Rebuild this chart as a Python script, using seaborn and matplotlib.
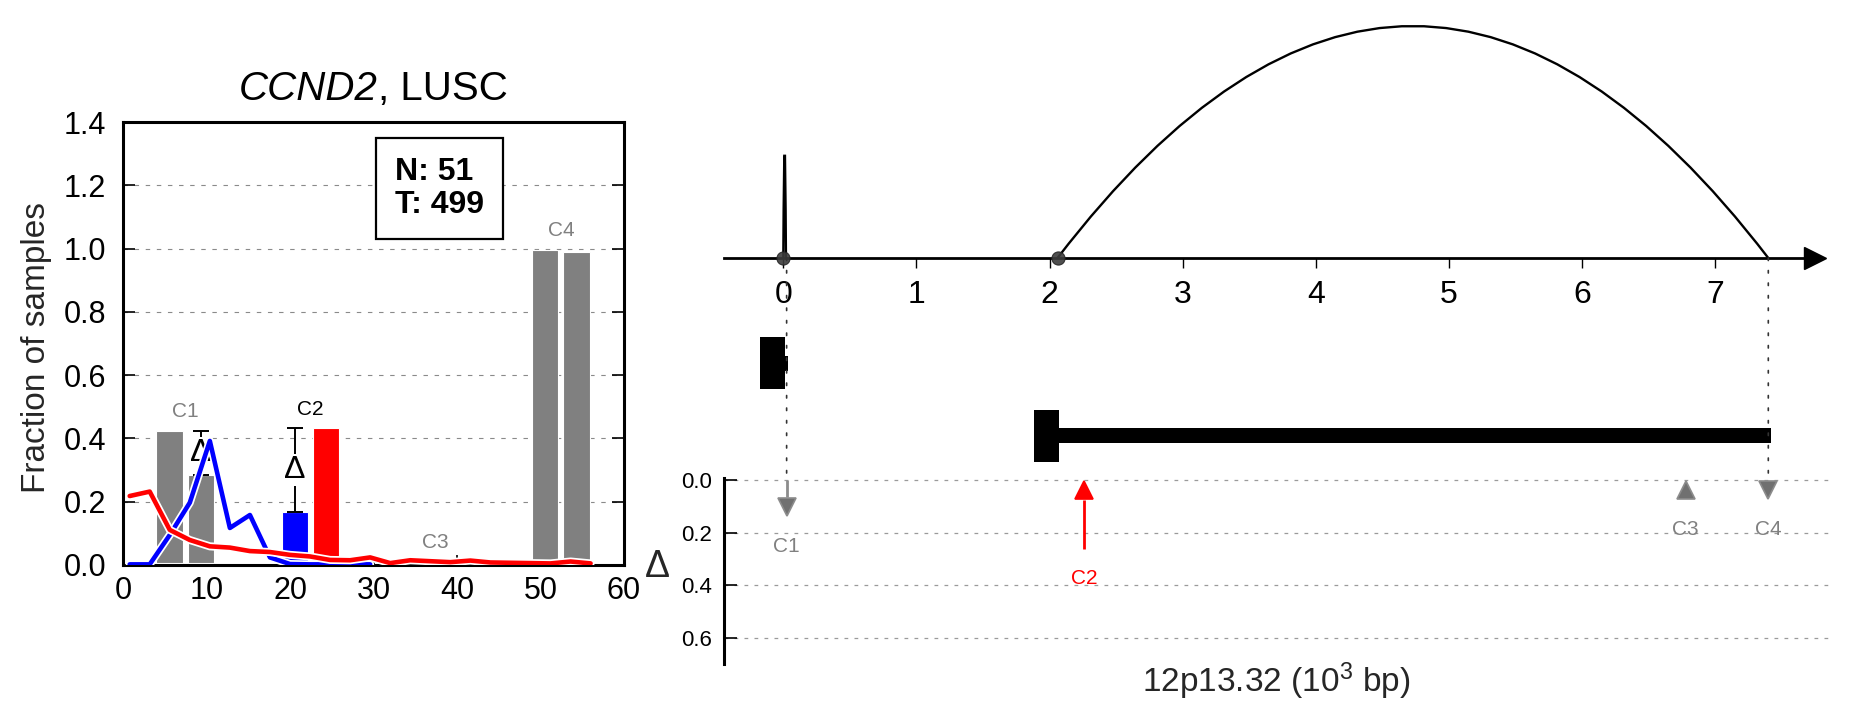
from __future__ import annotations

import matplotlib

matplotlib.use("Agg")
import matplotlib.patheffects as pe
import matplotlib.pyplot as plt
import seaborn as sns
from matplotlib.patches import ConnectionPatch, PathPatch
from matplotlib.path import Path

W, H = 1851, 718

# ---- left panel: fraction of samples ----
RED_X = [0.8, 3.2, 5.6, 8.0, 10.4, 12.8, 15.2, 17.6, 20.0, 22.4, 24.8, 27.2,
         29.6, 32.0, 34.4, 36.8, 39.2, 41.6, 44.0, 46.4, 48.8, 51.2, 53.6, 56.0]
RED_Y = [0.218, 0.232, 0.111, 0.079, 0.059, 0.055, 0.044, 0.041, 0.032, 0.027,
         0.016, 0.015, 0.024, 0.006, 0.015, 0.012, 0.009, 0.014, 0.008, 0.007,
         0.006, 0.005, 0.011, 0.005]
BLUE_X = [0.8, 3.2, 5.6, 8.0, 10.4, 12.8, 15.2, 17.6, 20.0, 22.4, 24.8, 27.2, 29.6]
BLUE_Y = [0.002, 0.002, 0.095, 0.197, 0.392, 0.117, 0.158, 0.024, 0.003,
          0.002, 0.002, 0.002, 0.002]

GROUPS = ["C1", "C2", "C3", "C4"]
GROUP_CENTER = [7.45, 22.45, 37.45, 52.45]
FIRST_HEIGHT = [0.424, 0.169, 0.008, 0.996]
SECOND_HEIGHT = [0.284, 0.432, 0.010, 0.990]
HIGHLIGHT = [False, True, False, False]
SHOW_DELTA = [True, True, False, False]
N_NORMAL = 51
N_TUMOR = 499

# ---- right panel: gene locus ----
EVENT_POS = [0.025, 2.26, 6.78, 7.40]
EVENT_GUIDE = [True, False, False, True]
ARC_START = [0.0, 2.06]
ARC_END = [0.02, 7.40]
ARC_HEIGHT = [0.47, 1.0]
GENOME_TICKS = [0, 1, 2, 3, 4, 5, 6, 7]
FEAT_TRACK = [1, 1, 2, 2]
FEAT_START = [-0.174, 0.014, 1.884, 2.07]
FEAT_END = [0.014, 0.035, 2.07, 7.42]
FEAT_TALL = [True, False, True, False]
DELTA_TICKS = [0.0, 0.2, 0.4, 0.6]

GRAY = "#808080"
BLUE = "#0000ff"
RED = "#ff0000"
XLIM = (-0.4455, 7.856)


def px_rect(x0, y0, x1, y1):
    return [x0 / W, 1 - y1 / H, (x1 - x0) / W, (y1 - y0) / H]


def plot_fractions(fig):
    ax = fig.add_axes(px_rect(123, 122, 624, 565))
    half, width, base = 1.875, 3.15, 0.007
    first_x = [c - half for c in GROUP_CENTER]
    second_x = [c + half for c in GROUP_CENTER]
    first_col = [BLUE if h else GRAY for h in HIGHLIGHT]
    second_col = [RED if h else GRAY for h in HIGHLIGHT]
    ax.bar(first_x, [v - base for v in FIRST_HEIGHT], bottom=base, width=width,
           color=first_col, edgecolor="white", linewidth=0.8, zorder=2)
    ax.bar(second_x, [v - base for v in SECOND_HEIGHT], bottom=base, width=width,
           color=second_col, edgecolor="white", linewidth=0.8, zorder=2)

    for i, name in enumerate(GROUPS):
        a, b = FIRST_HEIGHT[i], SECOND_HEIGHT[i]
        top = max(a, b)
        ax.text(GROUP_CENTER[i], top + 0.06, name, ha="center", va="center",
                fontsize=15, color="black" if HIGHLIGHT[i] else GRAY, zorder=4)
        if not SHOW_DELTA[i]:
            continue
        lo = min(a, b)
        x = first_x[i] if a < b else second_x[i]
        mid = (lo + top) / 2
        ax.errorbar([x], [mid], yerr=[(top - lo) / 2], fmt="none", ecolor="black",
                    elinewidth=1.4, capsize=6, capthick=1.4, zorder=3)
        ax.text(x, mid, "Δ", ha="center", va="center", fontsize=23, zorder=4,
                bbox=dict(facecolor="white", edgecolor="none", pad=0.5))

    halo = [pe.Stroke(linewidth=5.8, foreground="white"), pe.Normal()]
    sns.lineplot(x=BLUE_X, y=BLUE_Y, ax=ax, color=BLUE, linewidth=3.3,
                 path_effects=halo, sort=False, zorder=5)
    sns.lineplot(x=RED_X, y=RED_Y, ax=ax, color=RED, linewidth=3.3,
                 path_effects=halo, sort=False, zorder=6)

    ax.text(37.9, 1.19, f"N: {N_NORMAL}\nT: {N_TUMOR}", ha="center", va="center",
            multialignment="left", fontsize=23, fontweight="bold", linespacing=1.12,
            zorder=7, bbox=dict(boxstyle="square,pad=0.6", facecolor="white",
                                edgecolor="black", linewidth=1.6))

    ax.set_xlim(0, 60)
    ax.set_ylim(0, 1.4)
    ax.set_xticks(range(0, 61, 10))
    ax.set_yticks([i * 0.2 for i in range(8)])
    ax.set_yticklabels([f"{i * 0.2:.1f}" for i in range(8)])
    ax.tick_params(axis="y", direction="in", left=True, right=True, length=8.5,
                   width=1.2, pad=12, labelsize=22)
    ax.tick_params(axis="x", direction="in", bottom=True, top=False, length=7,
                   width=1.2, pad=8, labelsize=22)
    ax.grid(axis="y", color="#8a8a8a", linewidth=0.8, linestyle=(0, (4, 6)), zorder=0)
    ax.grid(axis="x", visible=False)
    for sp in ax.spines.values():
        sp.set_linewidth(2.2)
        sp.set_color("black")

    # title: italic gene symbol followed by upright cohort name
    gene = ax.annotate("CCND2", xy=(0.509, 1), xycoords="axes fraction",
                       xytext=(0, 10), textcoords="offset points", ha="right",
                       va="bottom", fontsize=29, fontstyle="italic")
    ax.annotate(", LUSC", xy=(1, 0), xycoords=gene, ha="left", va="bottom",
                fontsize=29)
    ax.set_ylabel("Fraction of samples", fontsize=24, va="center")
    ax.yaxis.set_label_coords(-0.173, 0.49)


def plot_locus(fig):
    axg = fig.add_axes(px_rect(724, 20, 1829, 300))
    axg.set_xlim(*XLIM)
    axg.set_ylim(-0.181, 1.026)
    for s, e, h in zip(ARC_START, ARC_END, ARC_HEIGHT):
        path = Path([(s, 0), ((s + e) / 2, 2 * h), (e, 0)],
                    [Path.MOVETO, Path.CURVE3, Path.CURVE3])
        axg.add_patch(PathPatch(path, fill=False, edgecolor="black", linewidth=1.7,
                                zorder=3))
    sns.scatterplot(x=ARC_START, y=[0] * len(ARC_START), ax=axg, s=90,
                    color="#3c3c3c", edgecolor="#222222", alpha=0.9, zorder=5,
                    clip_on=False)
    axg.plot([7.75], [0], marker=">", markersize=16, color="black", clip_on=False)
    for side in ("top", "left", "right"):
        axg.spines[side].set_visible(False)
    axg.spines["bottom"].set_position(("data", 0))
    axg.spines["bottom"].set_bounds(XLIM[0], 7.75)
    axg.spines["bottom"].set_linewidth(2)
    axg.spines["bottom"].set_color("black")
    axg.set_xticks(GENOME_TICKS)
    axg.tick_params(axis="x", direction="out", bottom=True, length=7, width=1,
                    pad=9, labelsize=23)
    axg.set_yticks([])
    axg.patch.set_alpha(0)

    axn = fig.add_axes(px_rect(724, 300, 1829, 470))
    axn.set_xlim(*XLIM)
    axn.set_ylim(2.474, 0.126)
    axn.barh(FEAT_TRACK, [e - s for s, e in zip(FEAT_START, FEAT_END)],
             left=FEAT_START, height=[0.72 if t else 0.2 for t in FEAT_TALL],
             color="black", edgecolor="none")
    axn.axis("off")

    axd = fig.add_axes(px_rect(724, 478, 1829, 664))
    axd.set_xlim(*XLIM)
    axd.set_ylim(0.70, -0.0076)
    axd.patch.set_alpha(0)
    hl = 0.075
    for i, name in enumerate(GROUPS):
        delta = SECOND_HEIGHT[i] - FIRST_HEIGHT[i]
        mag = abs(delta)
        x = EVENT_POS[i]
        fill = RED if HIGHLIGHT[i] else "#707070"
        edge = RED if HIGHLIGHT[i] else "#8c8c8c"
        if delta < 0:
            if mag > hl:
                axd.vlines(x, 0, mag - hl, color=edge, linewidth=2, zorder=3)
            axd.plot([x], [max(mag, hl) - hl / 2], marker="v", markersize=13,
                     markerfacecolor=fill, markeredgecolor=edge, markeredgewidth=1.2,
                     zorder=4)
        else:
            if mag > hl:
                axd.vlines(x, hl, mag, color=edge, linewidth=2, zorder=3)
            axd.plot([x], [hl / 2], marker="^", markersize=13,
                     markerfacecolor=fill, markeredgecolor=edge, markeredgewidth=1.2,
                     zorder=4)
        axd.text(x, max(mag, hl) + 0.112, name, ha="center", va="center",
                 fontsize=15, color=RED if HIGHLIGHT[i] else GRAY)
        if EVENT_GUIDE[i]:
            fig.add_artist(ConnectionPatch(
                xyA=(x, 0), coordsA=axg.transData, xyB=(x, 0), coordsB=axd.transData,
                linestyle=(0, (1.5, 6)), linewidth=1.2, color="#333333", zorder=1))

    axd.set_yticks(DELTA_TICKS)
    axd.set_yticklabels([f"{t:.1f}" for t in DELTA_TICKS])
    axd.tick_params(axis="y", direction="in", left=True, length=9, width=1.2,
                    pad=9, labelsize=16)
    axd.set_xticks([])
    axd.grid(axis="y", color="#9a9a9a", linewidth=0.9, linestyle=(0, (3, 5)), zorder=0)
    axd.grid(axis="x", visible=False)
    for side in ("top", "right", "bottom"):
        axd.spines[side].set_visible(False)
    axd.spines["left"].set_linewidth(2.2)
    axd.spines["left"].set_color("black")
    axd.set_ylabel("Δ", fontsize=27, rotation=0, ha="center", va="center")
    axd.yaxis.set_label_coords(-0.0606, 0.52)
    axd.set_xlabel("12p13.32 (10$^3$ bp)", fontsize=24, va="center")
    axd.xaxis.set_label_coords(0.5, -0.095)


def main() -> None:
    sns.set_theme(style="white")
    plt.rcParams["font.family"] = ["Liberation Sans", "DejaVu Sans"]
    plt.rcParams["mathtext.fontset"] = "custom"
    plt.rcParams["mathtext.rm"] = "Liberation Sans"
    plt.rcParams["mathtext.it"] = "Liberation Sans:italic"
    plt.rcParams["mathtext.bf"] = "Liberation Sans:bold"
    plt.rcParams["text.color"] = "black"
    plt.rcParams["xtick.color"] = "black"
    plt.rcParams["ytick.color"] = "black"

    fig = plt.figure(figsize=(W / 100, H / 100), dpi=100)
    plot_fractions(fig)
    plot_locus(fig)
    fig.savefig("out.png", dpi=100)
    plt.close(fig)


if __name__ == "__main__":
    main()
